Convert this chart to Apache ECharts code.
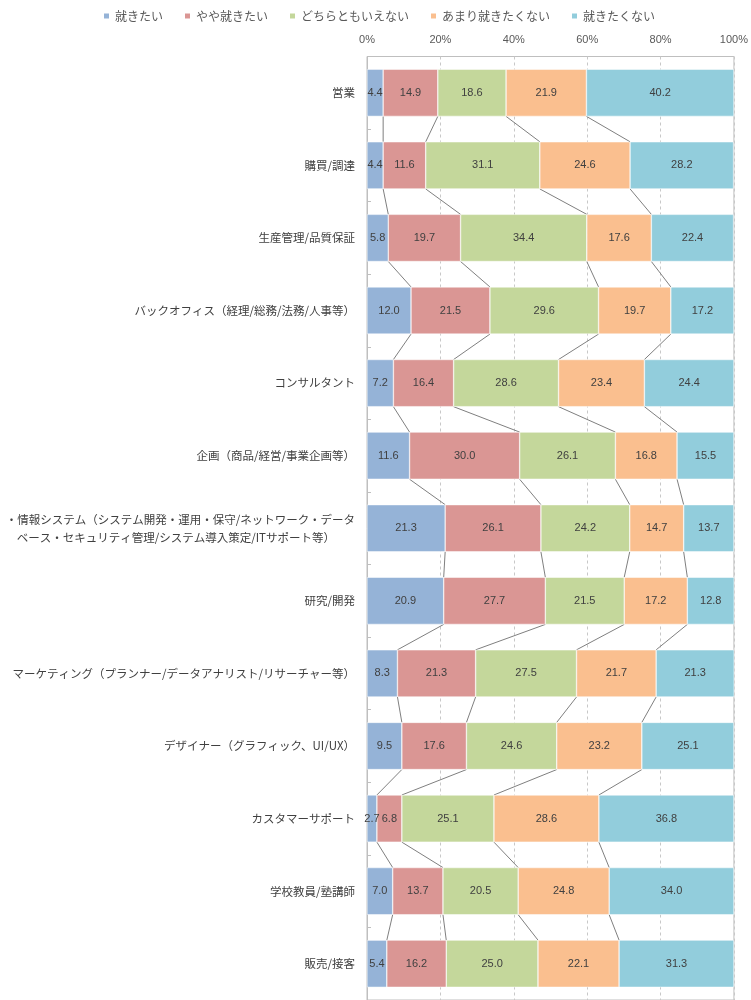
<!DOCTYPE html>
<html>
<head>
<meta charset="utf-8">
<script src="https://cdn.jsdelivr.net/npm/echarts@6/dist/echarts.min.js"></script>
<style>
html,body{margin:0;padding:0;background:#fff;}
#chart{width:751px;height:1000px;}
</style>
</head>
<body>
<div id="chart"></div>
<script>
const categories = [
  '営業',
  '購買/調達',
  '生産管理/品質保証',
  'バックオフィス（経理/総務/法務/人事等）',
  'コンサルタント',
  '企画（商品/経営/事業企画等）',
  '・情報システム（システム開発・運用・保守/ネットワーク・データ\nベース・セキュリティ管理/システム導入策定/ITサポート等）',
  '研究/開発',
  'マーケティング（プランナー/データアナリスト/リサーチャー等）',
  'デザイナー（グラフィック、UI/UX）',
  'カスタマーサポート',
  '学校教員/塾講師',
  '販売/接客'
];
const seriesNames = ['就きたい', 'やや就きたい', 'どちらともいえない', 'あまり就きたくない', '就きたくない'];
const want      = [4.4, 4.4, 5.8, 12.0, 7.2, 11.6, 21.3, 20.9, 8.3, 9.5, 2.7, 7.0, 5.4];
const ratherWant= [14.9, 11.6, 19.7, 21.5, 16.4, 30.0, 26.1, 27.7, 21.3, 17.6, 6.8, 13.7, 16.2];
const neutral   = [18.6, 31.1, 34.4, 29.6, 28.6, 26.1, 24.2, 21.5, 27.5, 24.6, 25.1, 20.5, 25.0];
const ratherNot = [21.9, 24.6, 17.6, 19.7, 23.4, 16.8, 14.7, 17.2, 21.7, 23.2, 28.6, 24.8, 22.1];
const notWant   = [40.2, 28.2, 22.4, 17.2, 24.4, 15.5, 13.7, 12.8, 21.3, 25.1, 36.8, 34.0, 31.3];
const xTicks = [0, 20, 40, 60, 80, 100];

const colors = ['#95b3d7', '#da9694', '#c4d79b', '#fabf8f', '#92cddc'];
const allSeries = [want, ratherWant, neutral, ratherNot, notWant];

// cumulative right edges for series lines
const cums = categories.map((c, i) => {
  let s = 0; const out = [];
  for (let k = 0; k < 4; k++) { s += allSeries[k][i]; out.push(s); }
  return out;
});
const lineData = [];
for (let i = 0; i < categories.length - 1; i++) {
  lineData.push([i].concat(cums[i], cums[i + 1]));
}

const GAP = 0.35;
const chart = echarts.init(document.getElementById('chart'));
const barSeries = seriesNames.map((name, k) => ({
  name: name,
  type: 'bar',
  stack: 'total',
  barCategoryGap: (GAP * 100) + '%',
  data: allSeries[k],
  itemStyle: { color: colors[k], borderColor: '#ffffff', borderWidth: 0.5 },
  label: {
    show: true,
    position: 'inside',
    color: '#404040',
    fontSize: 11,
    fontFamily: 'Liberation Sans, Arial, sans-serif',
    formatter: p => p.value.toFixed(1)
  },
  emphasis: { disabled: true },
  z: 3
}));

const lineSeries = {
  type: 'custom',
  name: 'serieslines',
  silent: true,
  z: 2,
  data: lineData,
  encode: { x: [1], y: 0 },
  renderItem: function (params, api) {
    const i = api.value(0);
    const bandH = api.size([0, 1])[1];
    const half = bandH * (1 - GAP) / 2;
    const children = [];
    for (let k = 0; k < 4; k++) {
      const a = api.coord([api.value(1 + k), i]);
      const b = api.coord([api.value(5 + k), i + 1]);
      children.push({
        type: 'line',
        shape: { x1: a[0], y1: a[1] + half, x2: b[0], y2: b[1] - half },
        style: { stroke: '#7f7f7f', lineWidth: 1 }
      });
    }
    return { type: 'group', children: children };
  }
};

const option = {
  animation: false,
  backgroundColor: '#ffffff',
  textStyle: { fontFamily: '"Noto Sans CJK JP", sans-serif' },
  legend: {
    data: seriesNames,
    top: 5,
    left: 97,
    icon: 'rect',
    itemWidth: 7,
    itemHeight: 7,
    itemGap: 20,
    textStyle: { color: '#595959', fontSize: 12, fontFamily: '"Noto Sans CJK JP", sans-serif' }
  },
  grid: {
    left: 367,
    right: 14,
    top: 56.5,
    height: 949,
    show: true,
    borderColor: '#bfbfbf',
    borderWidth: 1
  },
  xAxis: {
    type: 'value',
    position: 'top',
    min: xTicks[0],
    max: xTicks[xTicks.length - 1],
    interval: 20,
    axisLine: { show: false },
    axisTick: { show: false },
    axisLabel: {
      color: '#595959',
      fontSize: 11,
      margin: 11,
      fontFamily: 'Liberation Sans, Arial, sans-serif',
      formatter: '{value}%'
    },
    splitLine: { show: true, lineStyle: { color: '#c8c8c8', type: [3, 3], width: 1 } }
  },
  yAxis: {
    type: 'category',
    inverse: true,
    data: categories,
    axisLine: { show: true, lineStyle: { color: '#bfbfbf' } },
    axisTick: { show: true, inside: true, length: 4, lineStyle: { color: '#bfbfbf' } },
    axisLabel: {
      color: '#404040',
      fontSize: 11.5,
      margin: 12,
      lineHeight: 18,
      fontFamily: '"Noto Sans CJK JP", sans-serif',
      formatter: function (v) {
        if (v.indexOf('\n') >= 0) {
          const parts = v.split('\n');
          return parts[0] + '\n{p|' + parts[1] + '}';
        }
        return v;
      },
      rich: {
        p: { color: '#404040', fontSize: 11.5, lineHeight: 18, padding: [0, 20, 0, 0], fontFamily: '"Noto Sans CJK JP", sans-serif' }
      }
    }
  },
  series: barSeries.concat([lineSeries])
};
chart.setOption(option);
</script>
</body>
</html>
